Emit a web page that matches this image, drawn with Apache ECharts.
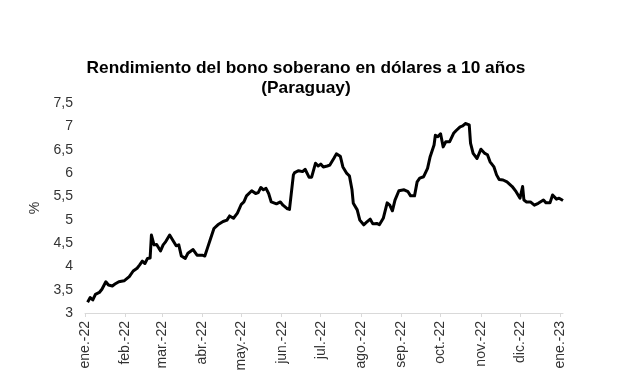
<!DOCTYPE html>
<html>
<head>
<meta charset="utf-8">
<script src="https://cdn.jsdelivr.net/npm/echarts@6/dist/echarts.min.js"></script>
<style>
html,body{margin:0;padding:0;background:#fff;}
#chart{width:617px;height:391px;}
</style>
</head>
<body>
<div id="chart"></div>
<script>
var dates = ['2022-01-03','2022-01-05','2022-01-07','2022-01-09','2022-01-12','2022-01-14','2022-01-17','2022-01-19','2022-01-22','2022-01-24','2022-01-27','2022-01-31',
'2022-02-04','2022-02-07','2022-02-10','2022-02-12','2022-02-14','2022-02-16','2022-02-18','2022-02-20','2022-02-21','2022-02-23','2022-02-25','2022-02-28',
'2022-03-02','2022-03-04','2022-03-07','2022-03-10','2022-03-12','2022-03-14','2022-03-16','2022-03-19','2022-03-21','2022-03-25','2022-03-28',
'2022-04-01','2022-04-03','2022-04-05','2022-04-07','2022-04-10','2022-04-13','2022-04-17','2022-04-20','2022-04-22','2022-04-25','2022-04-28',
'2022-05-01','2022-05-03','2022-05-05','2022-05-09','2022-05-12','2022-05-14','2022-05-16','2022-05-18','2022-05-20','2022-05-22','2022-05-24','2022-05-28','2022-05-31',
'2022-06-02','2022-06-05','2022-06-07','2022-06-10','2022-06-11','2022-06-14','2022-06-17','2022-06-19','2022-06-22','2022-06-24','2022-06-27','2022-06-29',
'2022-07-01','2022-07-03','2022-07-06','2022-07-08','2022-07-11','2022-07-13','2022-07-16','2022-07-18','2022-07-21','2022-07-23','2022-07-25','2022-07-26','2022-07-29','2022-07-31',
'2022-08-03','2022-08-05','2022-08-08','2022-08-10','2022-08-13','2022-08-15','2022-08-18','2022-08-21','2022-08-23','2022-08-25','2022-08-27','2022-08-30',
'2022-09-03','2022-09-06','2022-09-08','2022-09-11','2022-09-13','2022-09-15','2022-09-18','2022-09-21','2022-09-23','2022-09-26','2022-09-27','2022-09-29',
'2022-10-01','2022-10-03','2022-10-05','2022-10-08','2022-10-11','2022-10-13','2022-10-16','2022-10-18','2022-10-20','2022-10-23','2022-10-24','2022-10-26','2022-10-29',
'2022-11-01','2022-11-04','2022-11-06','2022-11-08','2022-11-11','2022-11-13','2022-11-15','2022-11-18','2022-11-21','2022-11-25','2022-11-28',
'2022-12-01','2022-12-03','2022-12-04','2022-12-06','2022-12-09','2022-12-12','2022-12-15','2022-12-19','2022-12-21','2022-12-24','2022-12-26','2022-12-29','2022-12-31',
'2023-01-03'];
var yields = [3.23,3.33,3.28,3.40,3.44,3.51,3.67,3.60,3.58,3.62,3.67,3.69,
3.78,3.90,3.96,4.03,4.11,4.06,4.17,4.18,4.67,4.46,4.47,4.33,
4.46,4.53,4.67,4.53,4.44,4.46,4.22,4.17,4.28,4.36,4.24,
4.24,4.22,4.39,4.56,4.81,4.89,4.96,4.99,5.08,5.03,5.14,
5.33,5.38,5.51,5.62,5.56,5.58,5.69,5.64,5.67,5.56,5.38,5.34,5.38,
5.31,5.24,5.22,5.96,6.01,6.05,6.03,6.08,5.91,5.91,6.21,6.15,
6.19,6.13,6.15,6.17,6.31,6.41,6.36,6.13,5.99,5.94,5.64,5.35,5.21,4.99,
4.89,4.94,5.01,4.91,4.92,4.89,5.03,5.36,5.31,5.19,5.42,5.62,
5.64,5.60,5.51,5.51,5.81,5.89,5.92,6.10,6.35,6.60,6.81,6.78,
6.84,6.56,6.67,6.67,6.85,6.91,6.99,7.01,7.06,7.03,6.64,6.42,6.31,
6.51,6.42,6.39,6.24,6.13,5.96,5.86,5.85,5.81,5.71,5.60,
5.46,5.71,5.42,5.38,5.38,5.31,5.35,5.42,5.36,5.36,5.53,5.44,5.46,
5.41];
var monthLabels = ['ene.-22','feb.-22','mar.-22','abr.-22','may.-22','jun.-22','jul.-22','ago.-22','sep.-22','oct.-22','nov.-22','dic.-22','ene.-23'];
var yTickLabels = ['3','3,5','4','4,5','5','5,5','6','6,5','7','7,5'];

var seriesData = dates.map(function(d, i){ return [d, yields[i]]; });
var chart = echarts.init(document.getElementById('chart'), null, {renderer:'canvas'});
chart.setOption({
  animation: false,
  title: {
    text: 'Rendimiento del bono soberano en dólares a 10 años\n(Paraguay)',
    left: 301, top: 53, textAlign: 'center',
    textStyle: {fontFamily: 'Liberation Sans', fontSize: 17.3, fontWeight: 'bold', color: '#000', lineHeight: 20}
  },
  grid: {left: 85, right: 54, top: 103, bottom: 78, containLabel: false},
  xAxis: {
    type: 'time',
    min: '2022-01-01', max: '2023-01-03',
    minInterval: 28*86400000, maxInterval: 31*86400000,
    axisLine: {show: true, lineStyle: {color: '#d9d9d9', width: 1}},
    axisTick: {show: true, length: 4, lineStyle: {color: '#d9d9d9'}},
    splitLine: {show: false},
    axisLabel: {
      rotate: 90, margin: 8, color: '#333', fontFamily: 'Liberation Sans', fontSize: 14,
      hideOverlap: false,
      formatter: function(v){
        var d = new Date(v);
        if (d.getUTCDate() !== 1) return '';
        var idx = (d.getUTCFullYear() - 2022) * 12 + d.getUTCMonth();
        return monthLabels[idx] || '';
      }
    }
  },
  yAxis: {
    type: 'value', min: 3, max: 7.5, interval: 0.5,
    name: '%', nameLocation: 'middle', nameGap: 41, nameRotate: 90,
    nameTextStyle: {color: '#333', fontFamily: 'Liberation Sans', fontSize: 14},
    axisLine: {show: false}, axisTick: {show: false}, splitLine: {show: false},
    axisLabel: {
      color: '#333', fontFamily: 'Liberation Sans', fontSize: 14, margin: 12,
      formatter: function(v){ return yTickLabels[Math.round((v - 3) / 0.5)]; }
    }
  },
  series: [{
    type: 'line', data: seriesData, showSymbol: false, symbol: 'none',
    lineStyle: {color: '#000', width: 3, join: 'round'}
  }]
});
</script>
</body>
</html>
